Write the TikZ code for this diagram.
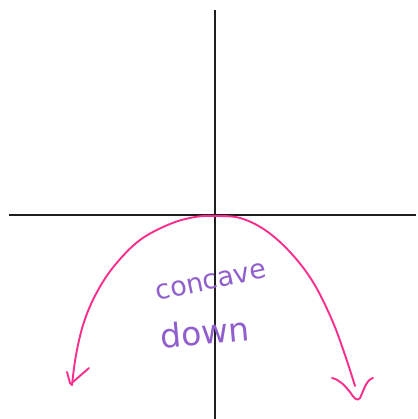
\documentclass[tikz,border=0pt]{standalone}
\usepackage{fontspec}
\setsansfont{DejaVu Sans}
\definecolor{axiscol}{RGB}{30,30,30}
\definecolor{curvecol}{RGB}{250,45,140}
\definecolor{textcol}{RGB}{145,95,205}
\tikzset{
  axis/.style={draw=axiscol, line width=1.8pt},
  curve/.style={draw=curvecol, line width=1.9pt, line cap=round, line join=round},
  hand/.style={text=textcol, font=\sffamily\fontsize{27}{29}\selectfont, inner sep=0pt}
}
\begin{document}
\begin{tikzpicture}[x=1pt,y=-1pt]
\useasboundingbox (0,0) rectangle (417,419);
\fill[white] (0,0) rectangle (417,419);
% axes
\coordinate (ytop) at (215,10);
\coordinate (ybot) at (215,419);
\coordinate (xl) at (9,215);
\coordinate (xr) at (416,215);
\draw[axis] (ytop) -- (ybot);
\draw[axis] (xl) -- (xr);
% parabola
\draw[curve] plot[smooth, tension=0.6] coordinates {
  (72,385) (76,355) (84,322) (97,292) (115,265) (140,240) (170,224) (195,217) (215,216)
  (240,218) (265,230) (290,252) (313,282) (332,320) (345,355) (355,386)};
% left arrowhead
\draw[curve] (67,372) -- (70,383) -- (72,385);
\draw[curve] (73,382) -- (89,368);
% right arrowhead
\draw[curve] (332,378) .. controls (340,380) and (344,385) .. (350,392)
  .. controls (354,398) and (357,402) .. (360,398)
  .. controls (364,390) and (366,380) .. (373,378);
% text
\node[hand, rotate=12] (t1) at (211,282) {concave};
\node[hand, rotate=5, font=\sffamily\fontsize{33}{35}\selectfont] (t2) at (205,332) {down};
\end{tikzpicture}
\end{document}
